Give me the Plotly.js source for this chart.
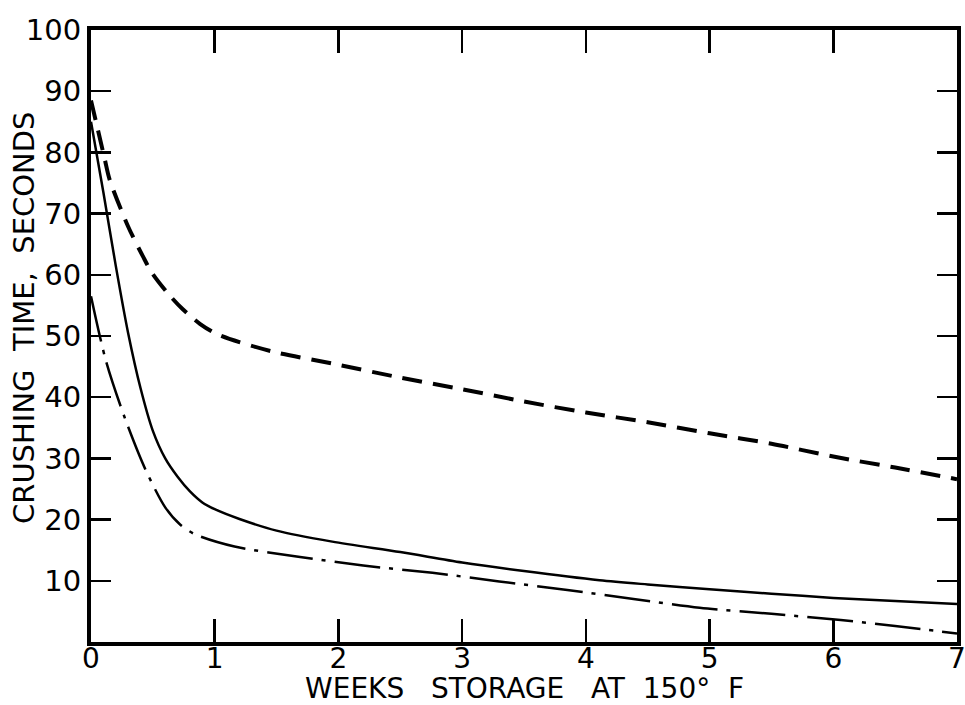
<!DOCTYPE html>
<html>
<head>
<meta charset="utf-8">
<script src="https://cdn.plot.ly/plotly-3.0.1.min.js"></script>
<style>html,body{margin:0;padding:0;background:#fff;}#chart{width:965px;height:705px;}</style>
</head>
<body>
<div id="chart"></div>
<script>
// Weeks of storage at 150 °F vs crushing time (seconds)
var dashedWeeks = [0, 0.11, 0.15, 0.30, 0.42, 0.49, 0.62, 0.74, 0.88, 1.03, 1.46, 1.95, 2.5, 3.0, 3.5, 4.0, 4.5, 5.0, 5.5, 6.0, 6.5, 7.0];
var dashedTime  = [88.5, 79, 75.6, 67.9, 63, 60.4, 57, 54.4, 52, 50.2, 47.5, 45.5, 43.2, 41.3, 39.3, 37.5, 35.9, 34.1, 32.4, 30.3, 28.5, 26.6];

var solidWeeks = [0, 0.1, 0.2, 0.3, 0.4, 0.5, 0.6, 0.7, 0.8, 0.9, 1.0, 1.2, 1.5, 1.95, 2.5, 3.0, 3.5, 4.11, 4.5, 5.0, 5.5, 6.0, 6.5, 7.0];
var solidTime  = [85, 73.5, 61.5, 50.5, 41.5, 34.5, 30, 27, 24.6, 22.8, 21.7, 20.1, 18.2, 16.4, 14.7, 13.0, 11.6, 10.1, 9.4, 8.6, 7.9, 7.2, 6.7, 6.2];

var dotDashWeeks = [0, 0.12, 0.27, 0.44, 0.6, 0.72, 0.84, 1.16, 1.69, 2.2, 2.76, 3.3, 3.85, 4.4, 4.92, 5.5, 6.06, 6.5, 7.0];
var dotDashTime  = [56.5, 46, 36.8, 28.2, 22, 19.2, 17.6, 15.6, 13.9, 12.5, 11.3, 9.9, 8.5, 7.0, 5.6, 4.6, 3.6, 2.6, 1.4];

var xTickVals = [0, 1, 2, 3, 4, 5, 6, 7];
var xTickText = ["0", "1", "2", "3", "4", "5", "6", "7"];
var yTickVals = [10, 20, 30, 40, 50, 60, 70, 80, 90, 100];
var yTickText = ["10", "20", "30", "40", "50", "60", "70", "80", "90", "100"];

var xTitle = "WEEKS\u00a0\u00a0\u00a0STORAGE\u00a0\u00a0\u00a0AT\u00a0\u00a0150°\u00a0\u00a0F";
var yTitle = "CRUSHING\u00a0\u00a0TIME,\u00a0\u00a0SECONDS";

var FONT = "DejaVu Sans, Arial, sans-serif";

var traces = [
  {x: dashedWeeks, y: dashedTime, mode: "lines", line: {color: "#000", width: 4, dash: "20px,11px", shape: "spline", smoothing: 0.8}, hoverinfo: "skip"},
  {x: solidWeeks, y: solidTime, mode: "lines", line: {color: "#000", width: 2.5, shape: "spline", smoothing: 0.8}, hoverinfo: "skip"},
  {x: dotDashWeeks, y: dotDashTime, mode: "lines", line: {color: "#000", width: 2.5, dash: "46px,9px,4px,9px", shape: "spline", smoothing: 0.8}, hoverinfo: "skip"}
];

var layout = {
  width: 965, height: 705,
  margin: {l: 91, r: 8, t: 30, b: 63},
  paper_bgcolor: "#fff", plot_bgcolor: "#fff",
  showlegend: false,
  font: {family: FONT, color: "#000", size: 29},
  xaxis: {
    range: [0, 7], tickvals: xTickVals, ticktext: xTickText,
    showgrid: false, zeroline: false,
    showline: true, linecolor: "#000", linewidth: 4, mirror: "allticks",
    ticks: "inside", ticklen: 23, tickwidth: 2.5, tickcolor: "#000",
    ticklabeloverflow: "allow", ticklabelstandoff: -12,
    tickfont: {family: FONT, size: 28, color: "#000"}
  },
  yaxis: {
    range: [0, 100], tickvals: yTickVals, ticktext: yTickText,
    showgrid: false, zeroline: false,
    showline: true, linecolor: "#000", linewidth: 4, mirror: "allticks",
    ticks: "inside", ticklen: 20, tickwidth: 2.5, tickcolor: "#000",
    ticklabeloverflow: "allow",
    tickfont: {family: FONT, size: 29, color: "#000"}
  },
  annotations: [
    {text: xTitle, xref: "paper", yref: "paper", x: 0.5, y: (642 - 688) / 612, xanchor: "center", yanchor: "middle", showarrow: false, font: {family: FONT, size: 28, color: "#000"}},
    {text: yTitle, xref: "paper", yref: "paper", x: (24 - 91) / 866, y: (642 - 318) / 612, xanchor: "center", yanchor: "middle", textangle: -90, showarrow: false, font: {family: FONT, size: 29, color: "#000"}}
  ]
};

Plotly.newPlot("chart", traces, layout, {staticPlot: true, displayModeBar: false});
</script>
</body>
</html>
